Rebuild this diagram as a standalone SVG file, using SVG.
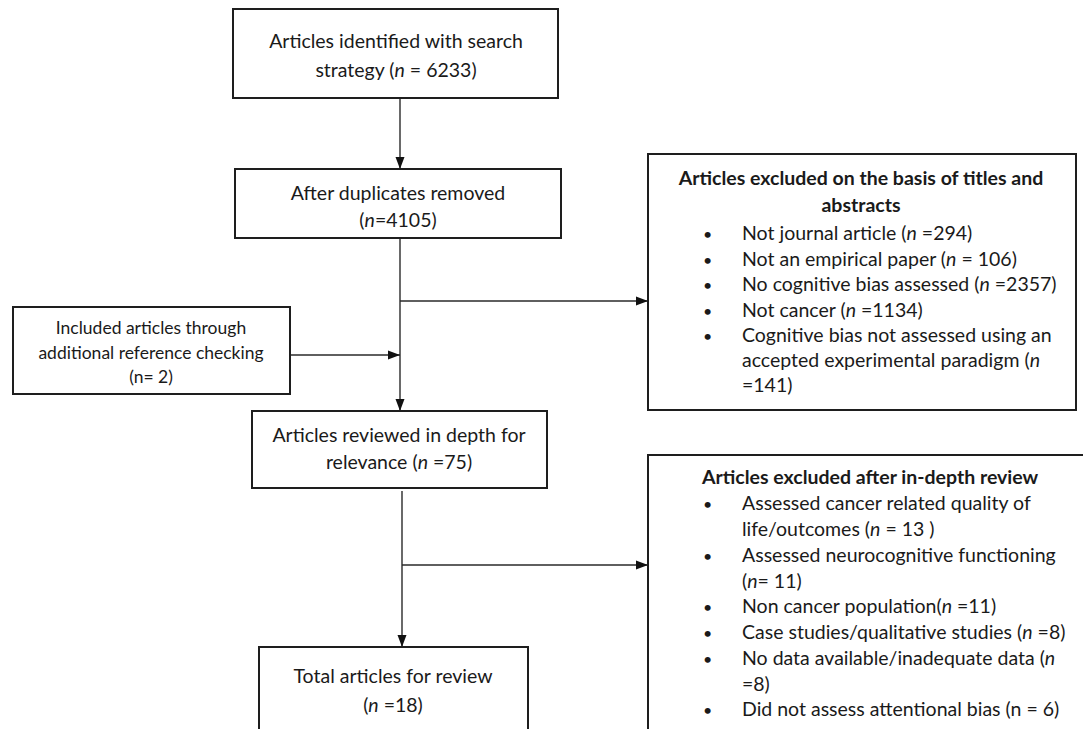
<svg xmlns="http://www.w3.org/2000/svg" width="1083" height="729" viewBox="0 0 1083 729">
  <style>
    .box { fill: #ffffff; stroke: #1e1e1e; stroke-width: 2; }
    .link { fill: none; stroke: #2a2a2a; stroke-width: 1.4; }
    text { font-family: Lato, "Liberation Sans", sans-serif; font-size: 19.5px; fill: #1a1a1a; }
    .c { text-anchor: middle; }
    .sm { font-size: 17.5px; }
    .b { font-weight: bold; }
    .i { font-style: italic; }
    .dot { font-size: 16px; }
  </style>
  <defs>
    <marker id="arrow" markerUnits="userSpaceOnUse" markerWidth="12" markerHeight="12" viewBox="0 0 12 12" refX="12" refY="6" orient="auto">
      <path d="M0,1.5 L12,6 L0,10.5 Z" fill="#111111"/>
    </marker>
  </defs>
  <rect width="1083" height="729" fill="#ffffff"/>

  <!-- connectors -->
  <g id="connectors">
    <path class="link" d="M400,98 V169" marker-end="url(#arrow)"/>
    <path class="link" d="M400,238 V411" marker-end="url(#arrow)"/>
    <path class="link" d="M400,301 H648" marker-end="url(#arrow)"/>
    <path class="link" d="M290,355 H400" marker-end="url(#arrow)"/>
    <path class="link" d="M402,491 V647" marker-end="url(#arrow)"/>
    <path class="link" d="M402,565 H648" marker-end="url(#arrow)"/>
  </g>

  <g id="identified">
    <rect class="box" x="233" y="9" width="325" height="89"/>
    <text class="c" x="396" y="48">Articles identified with search</text>
    <text class="c" x="396" y="77">strategy (<tspan class="i">n</tspan> = 6233)</text>
  </g>

  <g id="deduplicated">
    <rect class="box" x="235" y="169" width="326" height="69"/>
    <text class="c" x="398" y="200">After duplicates removed</text>
    <text class="c" x="398" y="227">(<tspan class="i">n</tspan>=4105)</text>
  </g>

  <g id="additional">
    <rect class="box" x="13" y="307" width="277" height="87"/>
    <text class="c sm" x="151" y="334">Included articles through</text>
    <text class="c sm" x="151" y="359">additional reference checking</text>
    <text class="c sm" x="151" y="383">(n= 2)</text>
  </g>

  <g id="excluded-screening">
    <rect class="box" x="648" y="154" width="428" height="256"/>
    <text class="c b" x="861" y="185">Articles excluded on the basis of titles and</text>
    <text class="c b" x="861" y="212">abstracts</text>
    <g>
      <text class="dot" x="703" y="240">•</text><text x="742" y="240">Not journal article (<tspan class="i">n</tspan> =294)</text>
      <text class="dot" x="703" y="266">•</text><text x="742" y="266">Not an empirical paper (<tspan class="i">n</tspan> = 106)</text>
      <text class="dot" x="703" y="291">•</text><text x="742" y="291">No cognitive bias assessed (<tspan class="i">n</tspan> =2357)</text>
      <text class="dot" x="703" y="317">•</text><text x="742" y="317">Not cancer (<tspan class="i">n</tspan> =1134)</text>
      <text class="dot" x="703" y="342">•</text><text x="742" y="342">Cognitive bias not assessed using an</text>
      <text x="742" y="367">accepted experimental paradigm (<tspan class="i">n</tspan></text>
      <text x="742" y="392">=141)</text>
    </g>
  </g>

  <g id="in-depth">
    <rect class="box" x="252" y="411" width="295" height="77"/>
    <text class="c" x="399" y="442">Articles reviewed in depth for</text>
    <text class="c" x="399" y="469">relevance (<tspan class="i">n</tspan> =75)</text>
  </g>

  <g id="excluded-review">
    <rect class="box" x="648" y="455" width="445" height="290"/>
    <text class="b" x="702" y="484">Articles excluded after in-depth review</text>
    <g>
      <text class="dot" x="703" y="510">•</text><text x="742" y="510">Assessed cancer related quality of</text>
      <text x="742" y="536">life/outcomes  (<tspan class="i">n</tspan> = 13 )</text>
      <text class="dot" x="703" y="562">•</text><text x="742" y="562">Assessed neurocognitive functioning</text>
      <text x="742" y="588">(<tspan class="i">n</tspan>= 11)</text>
      <text class="dot" x="703" y="613">•</text><text x="742" y="613">Non cancer population(<tspan class="i">n</tspan> =11)</text>
      <text class="dot" x="703" y="639">•</text><text x="742" y="639">Case studies/qualitative studies (<tspan class="i">n</tspan> =8)</text>
      <text class="dot" x="703" y="665">•</text><text x="742" y="665">No data available/inadequate data (<tspan class="i">n</tspan></text>
      <text x="742" y="691">=8)</text>
      <text class="dot" x="703" y="716">•</text><text x="742" y="716">Did not assess attentional bias (n = 6)</text>
    </g>
  </g>

  <g id="included">
    <rect class="box" x="259" y="647" width="269" height="100"/>
    <text class="c" x="393" y="683">Total articles for review</text>
    <text class="c" x="393" y="712">(<tspan class="i">n</tspan> =18)</text>
  </g>
</svg>
